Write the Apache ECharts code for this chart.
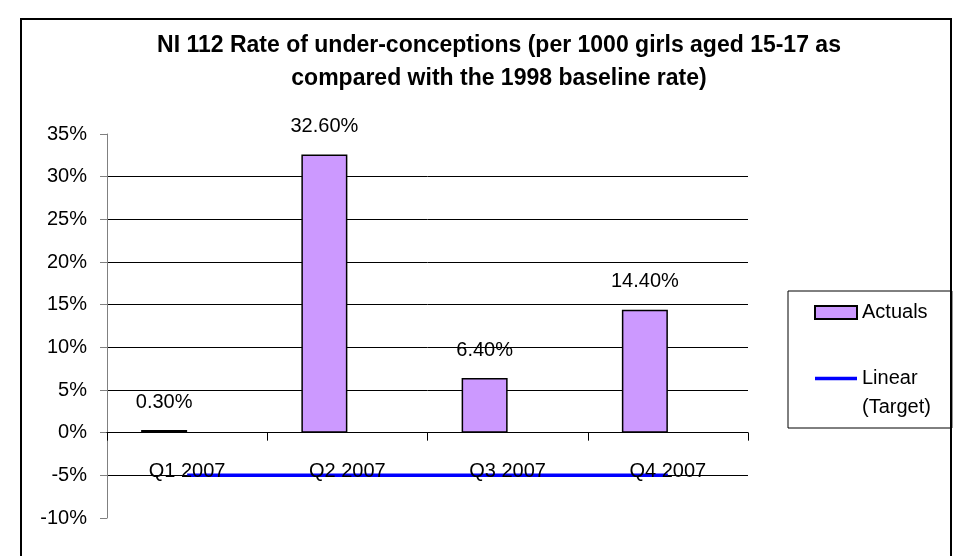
<!DOCTYPE html>
<html>
<head>
<meta charset="utf-8">
<script src="https://cdn.jsdelivr.net/npm/echarts@6/dist/echarts.min.js"></script>
<style>
html,body{margin:0;padding:0;background:#fff;}
#chart{width:958px;height:556px;}
</style>
</head>
<body>
<div id="chart"></div>
<script>
const categories = ['Q1 2007', 'Q2 2007', 'Q3 2007', 'Q4 2007'];
const actuals = [0.3, 32.6, 6.4, 14.4];
const target = [-5, -5, -5, -5];
const yMin = -10, yMax = 35, yStep = 5;
const titleLines = ['NI 112 Rate of under-conceptions (per 1000 girls aged 15-17 as', 'compared with the 1998 baseline rate)'];

const FONT = '"Liberation Sans", Arial, sans-serif';

// pick a condensed bold face for the title if one is installed
const ctx = document.createElement('canvas').getContext('2d');
function w(font) { ctx.font = font; return ctx.measureText(titleLines[0]).width; }
const narrowW = w('bold 28px "Liberation Sans Narrow", monospace');
const monoW = w('bold 28px monospace');
let titleFont = FONT, titleSize = 23;
if (Math.abs(narrowW - monoW) > 1) { titleFont = '"Liberation Sans Narrow", ' + FONT; titleSize = 28; }

const chart = echarts.init(document.getElementById('chart'), null, {renderer: 'canvas'});

const option = {
  backgroundColor: '#fff',
  animation: false,
  textStyle: {fontFamily: FONT},
  title: {
    text: titleLines.join('\n'),
    left: 494,
    top: 24,
    textAlign: 'center',
    textStyle: {fontFamily: titleFont, fontSize: titleSize, fontWeight: 'bold', color: '#000', lineHeight: 33, align: 'center'}
  },
  graphic: [{
    type: 'rect', z: -10, silent: true,
    shape: {x: 21, y: 19, width: 930, height: 560},
    style: {fill: 'none', stroke: '#000', lineWidth: 2}
  }],
  legend: {
    orient: 'vertical',
    left: 788, top: 291,
    padding: [7, 21, 6, 26],
    itemGap: 8,
    itemWidth: 42, itemHeight: 13,
    borderColor: '#000', borderWidth: 1,
    textStyle: {fontFamily: FONT, fontSize: 20, color: '#000', lineHeight: 29},
    data: [
      {name: 'Actuals', icon: 'rect'},
      {name: 'Linear (Target)', icon: 'path://M0,0 H42 V3.5 H0 Z'}
    ],
    formatter: function (n) { return n === 'Linear (Target)' ? ' \nLinear\n(Target)' : n; }
  },
  grid: {left: 107, right: 210, top: 134, bottom: 38, containLabel: false, outerBoundsMode: 'none'},
  xAxis: {
    type: 'category', data: categories, z: 3,
    axisLine: {onZero: true, lineStyle: {color: '#000', width: 1}},
    axisTick: {show: true, length: 8, inside: false, alignWithLabel: false, lineStyle: {color: '#000'}},
    axisLabel: {margin: -57, fontFamily: FONT, fontSize: 20, color: '#000'},
    splitLine: {show: false}
  },
  yAxis: {
    type: 'value', min: yMin, max: yMax, interval: yStep, z: 0,
    axisLine: {show: true, lineStyle: {color: '#808080', width: 1}},
    axisTick: {show: true, length: 7, inside: false, lineStyle: {color: '#808080'}},
    axisLabel: {margin: 20, fontFamily: FONT, fontSize: 20, color: '#000', formatter: '{value}%'},
    splitLine: {show: true, showMinLine: false, showMaxLine: false, lineStyle: {color: '#000', width: 1}}
  },
  series: [{
    name: 'Actuals', type: 'bar', data: actuals, barWidth: 46, barGap: '0%', z: 2,
    itemStyle: {color: '#CC99FF', borderColor: '#000', borderWidth: 1.5},
    label: {show: true, position: 'top', distance: 18, fontFamily: FONT, fontSize: 20, color: '#000',
      formatter: function (p) { return p.value.toFixed(2) + '%'; }}
  }, {
    name: 'Target', type: 'bar', data: target, barWidth: 46, barGap: '0%', z: 2,
    itemStyle: {color: 'rgba(0,0,0,0)', borderWidth: 0}
  }, {
    name: 'Linear (Target)', type: 'line', data: target, z: 2,
    showSymbol: false, symbol: 'none',
    lineStyle: {color: '#0000FF', width: 3.5},
    itemStyle: {color: '#0000FF'}
  }]
};
chart.setOption(option);
</script>
</body>
</html>
